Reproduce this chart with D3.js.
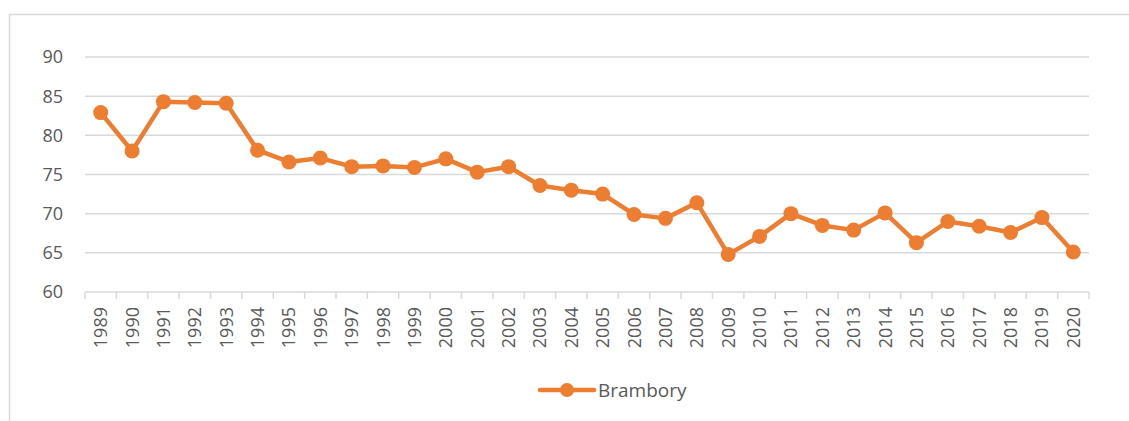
<!DOCTYPE html>
<html>
<head>
<meta charset="utf-8">
<script src="https://cdn.jsdelivr.net/npm/d3@7"></script>
<style>
  body { margin: 0; background: #fff; }
  svg { display: block; font-family: "Open Sans", "Liberation Sans", sans-serif; }
</style>
</head>
<body>
<svg id="chart" width="1129" height="421"></svg>
<script>
// data
const years = [1989, 1990, 1991, 1992, 1993, 1994, 1995, 1996, 1997, 1998, 1999,
  2000, 2001, 2002, 2003, 2004, 2005, 2006, 2007, 2008, 2009, 2010,
  2011, 2012, 2013, 2014, 2015, 2016, 2017, 2018, 2019, 2020];
const brambory = [82.9, 78.0, 84.3, 84.2, 84.1, 78.1, 76.6, 77.1, 76.0, 76.1, 75.9,
  77.0, 75.3, 76.0, 73.6, 73.0, 72.5, 69.9, 69.4, 71.4, 64.8, 67.1,
  70.0, 68.5, 67.9, 70.1, 66.3, 69.0, 68.4, 67.6, 69.5, 65.1];
const yTicks = [60, 65, 70, 75, 80, 85, 90];
const seriesName = 'Brambory';

const orange = '#ED7D31';
const grid = '#d9d9d9';
const textCol = '#595959';

const svg = d3.select('#chart');
const margin = {left: 85, right: 1089, top: 57, bottom: 292};

// chart frame (cropped on right / bottom)
svg.append('path')
  .attr('d', 'M9.5,421 V14.5 H1129')
  .attr('fill', 'none')
  .attr('stroke', grid)
  .attr('stroke-width', 1.5);

const x = d3.scaleBand().domain(years).range([margin.left, margin.right]);
const y = d3.scaleLinear().domain([60, 90]).range([margin.bottom, margin.top]);

// gridlines
svg.append('g').selectAll('line')
  .data(yTicks.filter(d => d > 60))
  .join('line')
  .attr('x1', margin.left).attr('x2', margin.right)
  .attr('y1', d => y(d)).attr('y2', d => y(d))
  .attr('stroke', grid).attr('stroke-width', 1.5);

// y labels
svg.append('g').selectAll('text')
  .data(yTicks)
  .join('text')
  .attr('x', 63)
  .attr('y', d => y(d))
  .attr('dy', '0.36em')
  .attr('text-anchor', 'end')
  .attr('fill', textCol)
  .style('font-size', '18px')
  .text(d => d);

// x axis line with ticks between categories
const xAxis = d3.axisBottom(x).tickSize(0).tickFormat('');
const gx = svg.append('g').attr('transform', `translate(0,${margin.bottom})`).call(xAxis);
gx.select('.domain').attr('stroke', grid).attr('stroke-width', 1.5).attr('d', `M${margin.left},0H${margin.right}`);
const edges = years.map(d => x(d)).concat([margin.right]);
svg.append('g').selectAll('line')
  .data(edges)
  .join('line')
  .attr('x1', d => d).attr('x2', d => d)
  .attr('y1', margin.bottom).attr('y2', margin.bottom + 7)
  .attr('stroke', grid).attr('stroke-width', 1.5);

// x labels rotated
svg.append('g').selectAll('text')
  .data(years)
  .join('text')
  .attr('transform', d => `translate(${x(d) + x.bandwidth() / 2},${margin.bottom + 15}) rotate(-90)`)
  .attr('text-anchor', 'end')
  .attr('dy', '0.36em')
  .attr('fill', textCol)
  .style('font-size', '18px')
  .text(d => d);

// line + markers
const pts = years.map((d, i) => [x(d) + x.bandwidth() / 2, y(brambory[i])]);
svg.append('path')
  .datum(pts)
  .attr('d', d3.line())
  .attr('fill', 'none')
  .attr('stroke', orange)
  .attr('stroke-width', 4.5)
  .attr('stroke-linejoin', 'round');
svg.append('g').selectAll('circle')
  .data(pts)
  .join('circle')
  .attr('cx', d => d[0]).attr('cy', d => d[1])
  .attr('r', 7.5)
  .attr('fill', orange);

// legend
const lg = svg.append('g').attr('transform', 'translate(540,390)');
lg.append('line').attr('x1', 0).attr('x2', 54)
  .attr('stroke', orange).attr('stroke-width', 4.5).attr('stroke-linecap', 'round');
lg.append('circle').attr('cx', 27).attr('r', 7).attr('fill', orange);
lg.append('text').attr('x', 58).attr('dy', '0.36em')
  .attr('fill', textCol).style('font-size', '19px').text(seriesName);
</script>
</body>
</html>
